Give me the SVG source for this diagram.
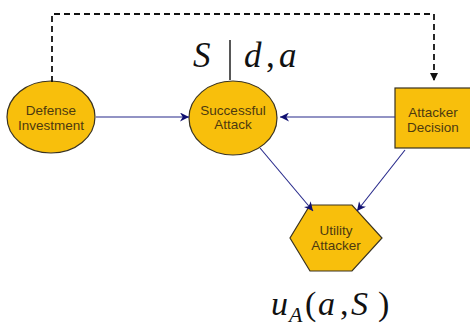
<svg xmlns="http://www.w3.org/2000/svg" width="470" height="326" viewBox="0 0 470 326">
  <style>
    .node { fill: #F8BF0C; stroke: #3a3320; stroke-width: 1.2; }
    .lbl { font-family: "Liberation Sans", Arial, sans-serif; font-size: 13.5px; fill: #4d3a10; text-anchor: middle; }
    .edge { stroke: #26288a; stroke-width: 1.1; fill: none; }
    .dash { stroke: #111; stroke-width: 1.8; fill: none; stroke-dasharray: 6 4; }
    .math { font-family: "Liberation Serif", "Times New Roman", serif; font-style: italic; fill: #111; }
    .rm { font-style: normal; }
  </style>
  <defs>
    <marker id="arr" viewBox="0 0 10 10" refX="10" refY="5" markerWidth="10" markerHeight="9" orient="auto" markerUnits="userSpaceOnUse">
      <path d="M0,0 L10,5 L0,10 L3,5 Z" fill="#101070"/>
    </marker>
    <marker id="arrd" viewBox="0 0 10 10" refX="10" refY="5" markerWidth="9" markerHeight="8" orient="auto" markerUnits="userSpaceOnUse">
      <path d="M0,0 L10,5 L0,10 Z" fill="#111"/>
    </marker>
  </defs>
  <rect width="470" height="326" fill="#fff"/>

  <g id="defense-investment">
    <ellipse class="node" cx="51" cy="117" rx="44" ry="36"/>
    <text class="lbl" x="51" y="115">Defense</text>
    <text class="lbl" x="51" y="130">Investment</text>
  </g>

  <g id="successful-attack">
    <ellipse class="node" cx="233" cy="118" rx="44" ry="37"/>
    <text class="lbl" x="233" y="115">Successful</text>
    <text class="lbl" x="233" y="129">Attack</text>
  </g>

  <g id="attacker-decision">
    <rect class="node" x="395" y="88" width="78" height="60"/>
    <text class="lbl" x="433" y="117">Attacker</text>
    <text class="lbl" x="433" y="132">Decision</text>
  </g>

  <g id="utility-attacker">
    <polygon class="node" points="310,205 352,205 382,238 352,271 310,271 290,238"/>
    <text class="lbl" x="336" y="235">Utility</text>
    <text class="lbl" x="336" y="250">Attacker</text>
  </g>

  <g id="connectors">
    <path class="dash" d="M52,82 V14 H434 V81" marker-end="url(#arrd)"/>
    <line class="edge" x1="96" y1="117" x2="189" y2="117" marker-end="url(#arr)"/>
    <line class="edge" x1="395" y1="117" x2="280" y2="117" marker-end="url(#arr)"/>
    <line class="edge" x1="260" y1="148" x2="313" y2="211" marker-end="url(#arr)"/>
    <line class="edge" x1="405" y1="150" x2="357" y2="211" marker-end="url(#arr)"/>
  </g>

  <g id="math-labels">
    <text class="math" font-size="35" y="67"><tspan x="193">S</tspan></text>
    <line x1="230" y1="40" x2="230" y2="80" stroke="#111" stroke-width="1.4"/>
    <text class="math" font-size="35" y="67"><tspan x="244">d</tspan><tspan class="rm" x="266">,</tspan><tspan x="279">a</tspan></text>
    <text class="math" font-size="34" y="315"><tspan x="271">u</tspan><tspan class="rm" x="305">(</tspan><tspan x="318">a</tspan><tspan class="rm" x="340">,</tspan><tspan x="351">S</tspan><tspan class="rm" x="378">)</tspan></text>
    <text class="math" font-size="22" x="289" y="322">A</text>
  </g>
</svg>
